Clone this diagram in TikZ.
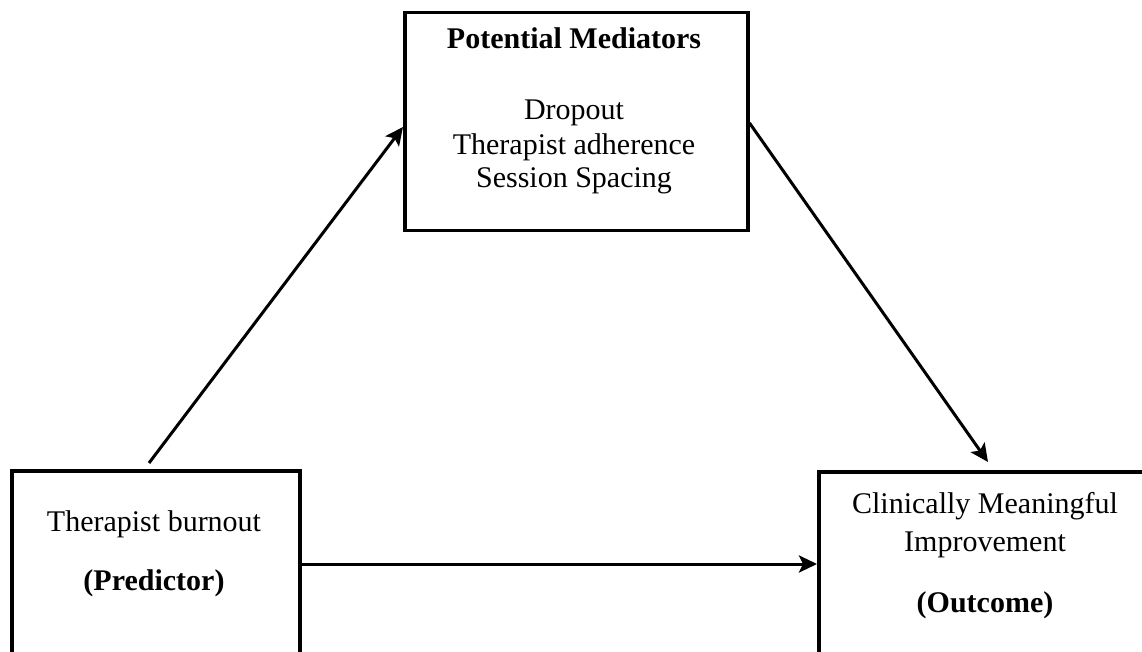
\documentclass[tikz,border=0pt]{standalone}
\usepackage{fontspec}
\setmainfont{Liberation Serif}
\usetikzlibrary{arrows.meta,calc}
\begin{document}
\begin{tikzpicture}[x=1pt,y=-1pt,
  box/.style={draw=black,line width=3.5pt,rectangle,inner sep=0pt,anchor=north west},
  txt/.style={anchor=base,inner sep=0pt,font=\fontsize{30}{34}\selectfont},
  btxt/.style={txt,font=\fontsize{30}{34}\selectfont\bfseries},
  arr/.style={line width=3pt,-{Stealth[length=18pt,width=17pt,inset=4pt]}}]
\useasboundingbox (0,0) rectangle (1142,652);
\clip (0,0) rectangle (1142,652);
\node[box,minimum width=343pt,minimum height=218pt] (M) at (403,11) {};
\node[box,minimum width=288pt,minimum height=260pt] (L) at (10,469) {};
\node[box,minimum width=400pt,minimum height=260pt] (R) at (817,470) {};
% texts
\node[btxt] (m1) at (574,49) {Potential Mediators};
\node[txt] (m2) at (574,120) {Dropout};
\node[txt] (m3) at (574,155) {Therapist adherence};
\node[txt] (m4) at (574,188) {Session Spacing};
\node[txt] (l1) at (154,531) {Therapist burnout};
\node[btxt] (l2) at (154,590) {(Predictor)};
\node[txt] (r1) at (985,513) {Clinically Meaningful};
\node[txt] (r2) at (985,551) {Improvement};
\node[btxt] (r3) at (985,612) {(Outcome)};
% connectors
\draw[arr] ([xshift=139pt,yshift=6pt]L.north west) -- ([yshift=-116pt]M.north west);
\draw[arr] ([yshift=-112pt]M.north east) -- ([xshift=171pt,yshift=8pt]R.north west);
\coordinate (h) at ([yshift=-95pt]L.north east);
\draw[arr] (h) -- (h -| R.west);
\end{tikzpicture}
\end{document}
